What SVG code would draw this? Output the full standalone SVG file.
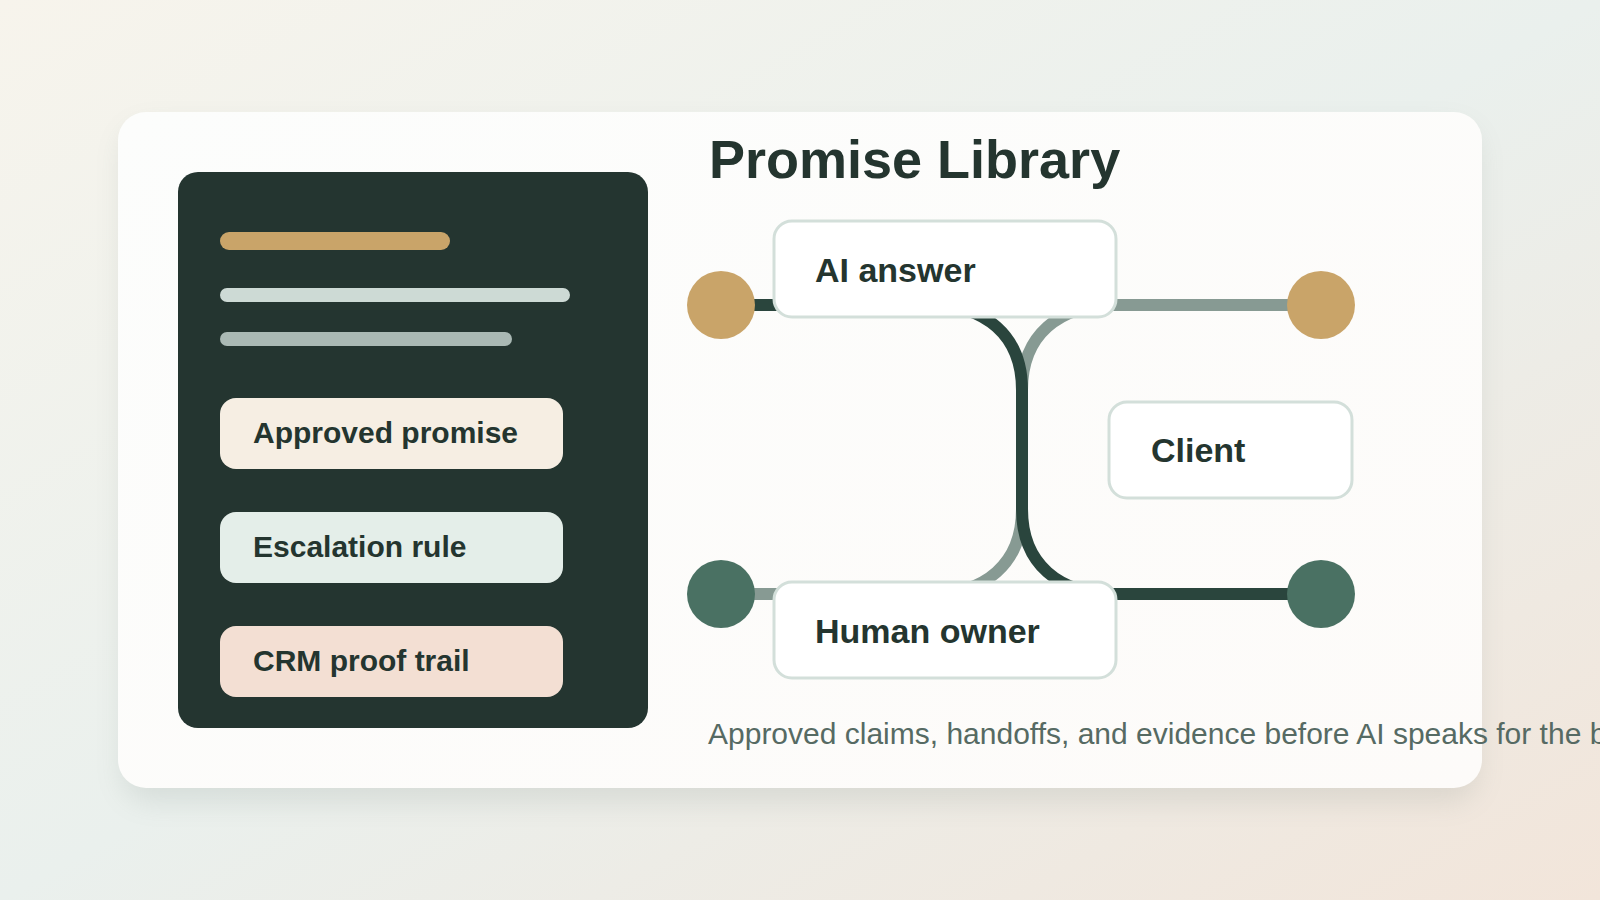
<svg xmlns="http://www.w3.org/2000/svg" width="1600" height="900" viewBox="0 0 1600 900">
  <defs>
    <linearGradient id="bg" x1="0" y1="0" x2="1" y2="1">
      <stop offset="0" stop-color="#F7F4EC"/>
      <stop offset="0.5" stop-color="#EAF0ED"/>
      <stop offset="1" stop-color="#F2E5DA"/>
    </linearGradient>
    <linearGradient id="card" x1="0" y1="0" x2="1" y2="1">
      <stop offset="0" stop-color="#FCFDFC"/>
      <stop offset="1" stop-color="#FDFBF9"/>
    </linearGradient>
    <filter id="shadow" x="-10%" y="-10%" width="120%" height="130%">
      <feGaussianBlur stdDeviation="14"/>
    </filter>
    <style>
      .node rect.box { fill: #FFFFFF; stroke: #D3DFDA; stroke-width: 3; }
      .label { font-family: "Liberation Sans", Arial, sans-serif; font-weight: bold; fill: #24352F; }
      .nodetext { font-size: 34px; }
      .pilltext { font-size: 30px; }
      .conn { fill: none; stroke-width: 12; }
    </style>
  </defs>

  <rect x="0" y="0" width="1600" height="900" fill="url(#bg)"/>
  <rect x="122" y="126" width="1356" height="676" rx="28" fill="#6E7D76" opacity="0.16" filter="url(#shadow)"/>
  <rect x="118" y="112" width="1364" height="676" rx="28" fill="url(#card)"/>

  <g id="library-panel">
    <rect x="178" y="172" width="470" height="556" rx="20" fill="#243530"/>
    <rect x="220" y="232" width="230" height="18" rx="9" fill="#C9A469"/>
    <rect x="220" y="288" width="350" height="14" rx="7" fill="#CDDAD5"/>
    <rect x="220" y="332" width="292" height="14" rx="7" fill="#AAB9B4"/>
  </g>

  <g id="pill-approved">
    <rect x="220" y="398" width="343" height="71" rx="16" fill="#F6EEE3"/>
    <text class="label pilltext" x="253" y="443">Approved promise</text>
  </g>
  <g id="pill-escalation">
    <rect x="220" y="512" width="343" height="71" rx="16" fill="#E4EEE9"/>
    <text class="label pilltext" x="253" y="557">Escalation rule</text>
  </g>
  <g id="pill-crm">
    <rect x="220" y="626" width="343" height="71" rx="16" fill="#F3DFD3"/>
    <text class="label pilltext" x="253" y="671">CRM proof trail</text>
  </g>

  <text id="title" class="label" x="709" y="178" font-size="54">Promise Library</text>

  <g id="connectors">
    <path class="conn" stroke="#879A93" d="M1321 305 H1114 C1059 305 1022 335 1022 390 V509 C1022 564 985 594 930 594 H721"/>
    <path class="conn" stroke="#2A453D" d="M721 305 H930 C985 305 1022 335 1022 390 V509 C1022 564 1059 594 1114 594 H1321"/>
  </g>

  <g id="dot-top-left"><circle cx="721" cy="305" r="34" fill="#C9A469"/></g>
  <g id="dot-top-right"><circle cx="1321" cy="305" r="34" fill="#C9A469"/></g>
  <g id="dot-bottom-left"><circle cx="721" cy="594" r="34" fill="#4A7163"/></g>
  <g id="dot-bottom-right"><circle cx="1321" cy="594" r="34" fill="#4A7163"/></g>

  <g id="node-ai" class="node">
    <rect class="box" x="774" y="221" width="342" height="96" rx="18"/>
    <text class="label nodetext" x="815" y="282">AI answer</text>
  </g>
  <g id="node-human" class="node">
    <rect class="box" x="774" y="582" width="342" height="96" rx="18"/>
    <text class="label nodetext" x="815" y="643">Human owner</text>
  </g>
  <g id="node-client" class="node">
    <rect class="box" x="1109" y="402" width="243" height="96" rx="18"/>
    <text class="label nodetext" x="1151" y="462">Client</text>
  </g>

  <text id="caption" x="708" y="744" font-family="Liberation Sans, Arial, sans-serif" font-size="30" fill="#566A63">Approved claims, handoffs, and evidence before AI speaks for the business.</text>
</svg>
